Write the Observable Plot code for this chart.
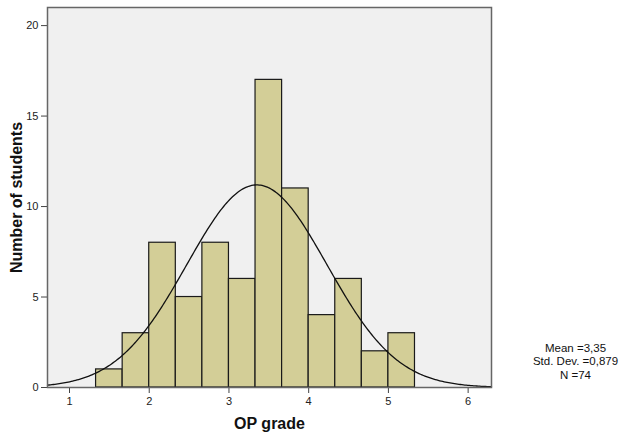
<!DOCTYPE html>
<html>
<head>
<meta charset="utf-8">
<script src="https://cdn.jsdelivr.net/npm/d3@7"></script>
<script src="https://cdn.jsdelivr.net/npm/@observablehq/plot@0.6"></script>
<style>
  body { margin: 0; background: #fff; }
  #chart svg { display: block; font-family: "Liberation Sans", Arial, sans-serif; }
</style>
</head>
<body>
<div id="chart"></div>
<script>
// Histogram of OP grades, bins of one third of a grade starting at 4/3
const binStart = 4 / 3;
const binWidth = 1 / 3;
const counts = [1, 3, 8, 5, 8, 6, 17, 11, 4, 6, 2, 3];

// Summary statistics shown beside the plot
const mean = 3.35;
const stdDev = 0.879;
const n = 74;

const xTicks = [1, 2, 3, 4, 5, 6];
const yTicks = [0, 5, 10, 15, 20];
const xDomain = [0.724, 6.293];
const yDomain = [0, 21];

const bins = counts.map((c, i) => ({
  x1: binStart + i * binWidth,
  x2: binStart + (i + 1) * binWidth,
  count: c
}));

// Fitted normal curve, scaled to the counts per bin
const curve = d3.range(0, 301).map(i => {
  const x = xDomain[0] + (xDomain[1] - xDomain[0]) * i / 300;
  const z = (x - mean) / stdDev;
  return { x, y: n * binWidth * Math.exp(-0.5 * z * z) / (stdDev * Math.sqrt(2 * Math.PI)) };
});

const statLines = [
  `Mean =${mean.toFixed(2).replace(".", ",")}`,
  `Std. Dev. =${stdDev.toFixed(3).replace(".", ",")}`,
  `N =${n}`
];
const statOffsets = [-36, -23, -9];

const chart = Plot.plot({
  width: 620,
  height: 433,
  marginLeft: 47,
  marginRight: 129,
  marginTop: 7,
  marginBottom: 46,
  style: { fontSize: "11px", color: "#222", background: "#fff" },
  x: {
    domain: xDomain,
    ticks: xTicks,
    tickFormat: "d",
    tickSize: 6,
    tickPadding: 4,
    label: "OP grade",
    labelArrow: "none",
    labelAnchor: "center",
    labelOffset: 41
  },
  y: {
    domain: yDomain,
    ticks: yTicks,
    tickFormat: "d",
    tickSize: 6,
    tickPadding: 3,
    label: "Number of students",
    labelArrow: "none",
    labelAnchor: "center",
    labelOffset: 37
  },
  marks: [
    Plot.frame({ fill: "#f0f0f0" }),
    Plot.rectY(bins, { x1: "x1", x2: "x2", y: "count", fill: "#d3ce97", stroke: "#1a1a1a", strokeWidth: 1.2 }),
    Plot.line(curve, { x: "x", y: "y", stroke: "#111", strokeWidth: 1.3 }),
    Plot.frame({ stroke: "#666", strokeWidth: 1.5 }),
    ...statLines.map((t, i) => Plot.text([t], {
      text: d => d,
      frameAnchor: "bottom-right",
      dx: 84,
      dy: statOffsets[i],
      textAnchor: "middle",
      fontSize: 11.5,
      fill: "#111"
    }))
  ]
});

// Styling of axis labels and tick marks
d3.select(chart).selectAll("[aria-label='x-axis label'] text, [aria-label='y-axis label'] text")
  .attr("font-weight", "bold").attr("font-size", 16).attr("fill", "#111")
  .each(function () { this.textContent = this.textContent.replace(/\s*[←→↑↓]\s*/g, ""); });
d3.select(chart).selectAll("[aria-label='x-axis tick'], [aria-label='y-axis tick']")
  .attr("stroke", "#444");

document.getElementById("chart").appendChild(chart);
</script>
</body>
</html>
